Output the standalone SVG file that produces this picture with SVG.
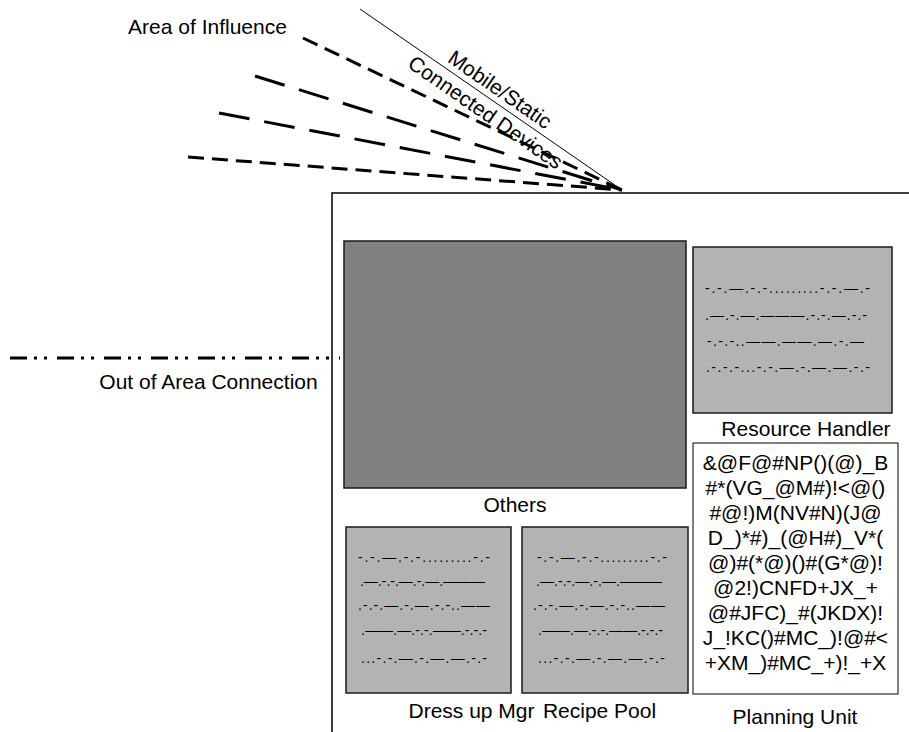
<svg xmlns="http://www.w3.org/2000/svg" width="909" height="732" viewBox="0 0 909 732">
<style>
text{font-family:"Liberation Sans",Arial,sans-serif;fill:#000}
.lbl{font-size:21px}
.code{font-size:21px;text-anchor:middle}
.dots{font-size:14px}
.dk{fill:#808080;stroke:#1a1a1a;stroke-width:1.5}
.lt{fill:#b3b3b3;stroke:#1a1a1a;stroke-width:1.5}
.ray{fill:none;stroke:#000;stroke-width:3}
</style>
<rect width="909" height="732" fill="#fff"/>
<g id="connectors">
<line x1="360" y1="9" x2="622" y2="190" stroke="#000" stroke-width="1"/>
<line class="ray" x1="303" y1="38" x2="622" y2="190" stroke-dasharray="16 8"/>
<line class="ray" x1="255" y1="76" x2="622" y2="190" stroke-dasharray="31 15"/>
<line class="ray" x1="219" y1="113" x2="622" y2="190" stroke-dasharray="31 15"/>
<line class="ray" x1="188" y1="157" x2="622" y2="190" stroke-dasharray="16 8"/>
<line x1="10" y1="358" x2="340" y2="358" fill="none" stroke="#000" stroke-width="3" stroke-dasharray="17 7 3 7 3 10"/>
</g>
<g id="labels">
<text class="lbl" x="207.5" y="34" text-anchor="middle">Area of Influence</text>
<text class="lbl" x="208.5" y="389" text-anchor="middle">Out of Area Connection</text>
<text class="lbl" transform="translate(492.5,100.4) rotate(34.6)" y="-6" text-anchor="middle">Mobile/Static</text>
<text class="lbl" transform="translate(493.3,101) rotate(34.6)" y="21" text-anchor="middle">Connected Devices</text>
</g>
<g id="frame">
<polyline points="332,732 332,193 909,193" fill="none" stroke="#000" stroke-width="1.5"/>
</g>
<g id="others">
<rect class="dk" x="344" y="241" width="342" height="247"/>
<text class="lbl" x="515" y="512" text-anchor="middle">Others</text>
</g>
<g id="resource-handler">
<rect class="lt" x="693" y="247" width="199" height="166"/>
<text class="dots" x="705" y="293" textLength="165" lengthAdjust="spacing">-.-.—.-.-.........-.-.—.-</text>
<text class="dots" x="705" y="320" textLength="162" lengthAdjust="spacing">.—.-.—.———.-.-.—.-.-</text>
<text class="dots" x="707" y="346" textLength="157" lengthAdjust="spacing">-.-.-..——.——.—.-.—</text>
<text class="dots" x="706" y="372" textLength="164" lengthAdjust="spacing">.-.-.-...-.-.—.-.—.—.-.-</text>
<text class="lbl" x="806" y="436" text-anchor="middle">Resource Handler</text>
</g>
<g id="planning-unit">
<rect x="693" y="443" width="205" height="251" fill="#fff" stroke="#000" stroke-width="1"/>
<text class="code" x="795.5" y="470">&amp;@F@#NP()(@)_B</text>
<text class="code" x="795.5" y="495">#*(VG_@M#)!&lt;@()</text>
<text class="code" x="795.5" y="520">#@!)M(NV#N)(J@</text>
<text class="code" x="795.5" y="545">D_)*#)_(@H#)_V*(</text>
<text class="code" x="795.5" y="570">@)#(*@)()#(G*@)!</text>
<text class="code" x="795.5" y="595">@2!)CNFD+JX_+</text>
<text class="code" x="795.5" y="620">@#JFC)_#(JKDX)!</text>
<text class="code" x="795.5" y="645">J_!KC()#MC_)!@#&lt;</text>
<text class="code" x="795.5" y="670">+XM_)#MC_+)!_+X</text>
<text class="lbl" x="795" y="724" text-anchor="middle">Planning Unit</text>
</g>
<g id="dress-up-mgr">
<rect class="lt" x="346" y="527" width="165" height="166"/>
<text class="dots" x="358" y="562" textLength="132" lengthAdjust="spacing">-.-.—.-.-.........-.-</text>
<text class="dots" x="360" y="586" textLength="125" lengthAdjust="spacing">.—.-.-.—.-.—.———</text>
<text class="dots" x="358" y="610" textLength="132" lengthAdjust="spacing">.-.-.—.-.—.-.-..——</text>
<text class="dots" x="361" y="635" textLength="126" lengthAdjust="spacing">.——.—.-.-.——.-.-.-</text>
<text class="dots" x="361" y="663" textLength="126" lengthAdjust="spacing">...-.-.—.-.—.—.-.-</text>
<text class="lbl" x="471.5" y="718" text-anchor="middle">Dress up Mgr</text>
</g>
<g id="recipe-pool">
<rect class="lt" x="522" y="527" width="166" height="166"/>
<text class="dots" x="537" y="562" textLength="130" lengthAdjust="spacing">-.-.—.-.-.........-.-</text>
<text class="dots" x="536" y="586" textLength="126" lengthAdjust="spacing">.—.-.-.—.-.—.———</text>
<text class="dots" x="533" y="610" textLength="132" lengthAdjust="spacing">.-.-.—.-.—.-.-..——</text>
<text class="dots" x="538" y="635" textLength="125" lengthAdjust="spacing">.——.—.-.-.——.-.-.-</text>
<text class="dots" x="538" y="663" textLength="127" lengthAdjust="spacing">...-.-.—.-.—.—.-.-</text>
<text class="lbl" x="599.5" y="718" text-anchor="middle">Recipe Pool</text>
</g>
</svg>
